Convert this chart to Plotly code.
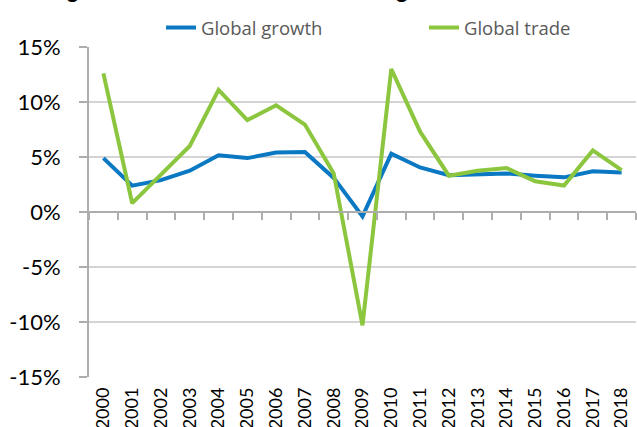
import plotly.graph_objects as go

years = [str(y) for y in range(2000, 2019)]
global_growth = [4.9, 2.4, 2.9, 3.75, 5.15, 4.9, 5.4, 5.45, 3.1, -0.4, 5.3, 4.05, 3.35, 3.4, 3.5, 3.3, 3.15, 3.7, 3.6]
global_trade = [12.6, 0.8, 3.4, 6.0, 11.1, 8.35, 9.7, 7.95, 3.5, -10.3, 13.0, 7.3, 3.3, 3.75, 4.0, 2.8, 2.4, 5.6, 3.8]
y_ticks = [-15, -10, -5, 0, 5, 10, 15]
y_labels = [f"{v}%" for v in y_ticks]
title_text = "Trade growth is more volatile than GDP growth"

FONT = "Lato, Carlito, Calibri, sans-serif"
LEG_FONT = "Open Sans, Segoe UI, sans-serif"
W, H = 637, 427
L, R, T, B = 89, 1, 47, 50
pw, ph = W - L - R, H - T - B

fig = go.Figure()
fig.add_trace(go.Scatter(x=years, y=global_growth, mode="lines", name="Global growth",
                         line=dict(color="#0A78C2", width=4)))
fig.add_trace(go.Scatter(x=years, y=global_trade, mode="lines", name="Global trade",
                         line=dict(color="#8CC63F", width=4)))
# invisible trace on the zero-line axis so its ticks render
fig.add_trace(go.Scatter(x=[0], y=[0], xaxis="x2", mode="markers", showlegend=False,
                         marker=dict(opacity=0), hoverinfo="skip"))

fig.update_layout(
    width=W, height=H,
    margin=dict(l=L, r=R, t=T, b=B, autoexpand=False),
    paper_bgcolor="white", plot_bgcolor="white",
    font=dict(family=FONT, color="#000000"),
    showlegend=True,
    legend=dict(orientation="h", x=(161 - L) / pw, xanchor="left", y=1 + (47 - 28) / ph, yanchor="middle",
                font=dict(size=18.5, color="#595959", family=LEG_FONT), bgcolor="rgba(0,0,0,0)",
                entrywidth=218, entrywidthmode="pixels", borderwidth=0),
    xaxis=dict(type="category", range=[-0.5, 18.5], showgrid=False, showline=False, ticks="",
               tickangle=-90, tickfont=dict(size=18, family=FONT, color="#000000"),
               ticklabelstandoff=6, zeroline=False, fixedrange=True),
    xaxis2=dict(overlaying="x", anchor="free", position=0.5, range=[-0.5, 18.5],
                showline=True, linecolor="#ADADAD", linewidth=2, ticks="outside", ticklen=7,
                tickwidth=2, tickcolor="#ADADAD", tickvals=[i + 0.5 for i in range(-1, 19)],
                showticklabels=False, showgrid=False, zeroline=False),
    yaxis=dict(range=[-15, 15], tickvals=y_ticks, ticktext=y_labels, showgrid=True,
               gridcolor="#D4D4D4", gridwidth=2, showline=True, linecolor="#ADADAD", linewidth=2,
               ticks="outside", ticklen=8, tickwidth=2, tickcolor="#ADADAD",
               tickfont=dict(size=22, family=FONT, color="#000000"), ticklabelstandoff=14,
               zeroline=False),
    annotations=[dict(text=f"<b>{title_text}</b>", xref="paper", yref="paper",
                      x=-L / pw, y=1 + (T - 5) / ph, xanchor="left", yanchor="bottom",
                      xshift=5, showarrow=False, font=dict(size=22, family=FONT, color="#000000"))],
)

fig.write_html("out.html", config={"displayModeBar": False},
               post_script="document.body.style.margin='0';document.body.style.overflow='hidden';")
